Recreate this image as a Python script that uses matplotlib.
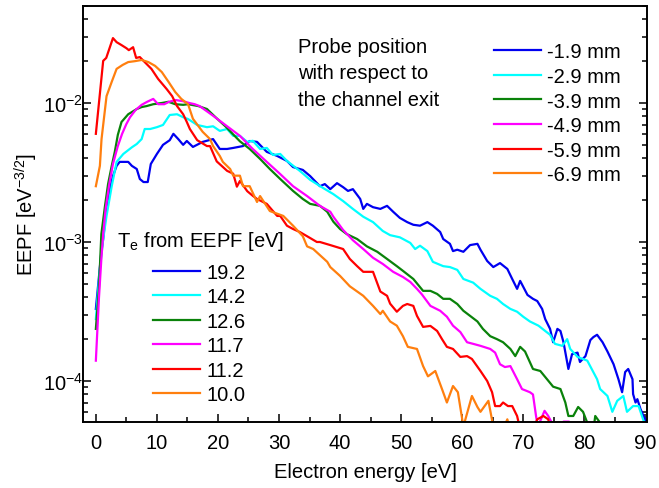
#!/usr/bin/env python
"""
EEPF at several probe positions relative to the channel exit.
"""

import matplotlib.pyplot as plt
from matplotlib.lines import Line2D
from matplotlib.ticker import FixedLocator, MultipleLocator, NullFormatter

plt.rcParams['font.family'] = ['Liberation Sans', 'DejaVu Sans']
plt.rcParams['mathtext.fontset'] = 'custom'
plt.rcParams['mathtext.rm'] = 'Liberation Sans'
plt.rcParams['mathtext.it'] = 'Liberation Sans:italic'

# -1.9 mm
e_19 = [0.0, 0.9, 1.2, 1.7, 2.3, 2.8, 3.4, 3.9, 5.3, 5.9, 6.7, 7.2, 7.8, 8.5, 9.0, 10.0,
        11.0, 12.1, 12.7, 13.5, 14.3, 14.9, 15.9, 17.5, 19.2, 20.3, 21.5, 22.5, 24.1, 25.2,
        26.4, 28.0, 29.7, 31.3, 32.3, 33.9, 35.1, 36.7, 37.5, 38.4, 39.5, 40.5, 41.3, 42.1,
        43.3, 43.8, 44.4, 45.4, 46.6, 47.7, 48.7, 49.8, 51.0, 52.0, 53.1, 54.3, 55.2, 56.4,
        56.9, 58.0, 58.5, 59.2, 60.2, 61.3, 62.5, 63.0, 64.1, 65.1, 66.2, 67.4, 68.2, 69.0,
        69.5, 70.7, 71.6, 72.3, 73.1, 73.6, 74.4, 74.9, 75.6, 76.1, 76.6, 77.4, 78.0, 78.9,
        79.3, 80.2, 81.0, 81.5, 82.1, 83.0, 83.8, 84.8, 85.6, 86.2, 86.7, 87.2, 87.9, 88.0,
        88.4, 88.7, 89.2, 89.7, 90.3]
eepf_19 = [3.3e-4, 8.5e-4, 1.05e-3, 1.73e-3, 2.4e-3, 2.98e-3, 3.53e-3, 3.77e-3, 3.77e-3,
           3.53e-3, 3.35e-3, 2.84e-3, 2.7e-3, 2.7e-3, 3.64e-3, 4.3e-3, 5.0e-3, 5.4e-3, 6.0e-3,
           5.5e-3, 5.0e-3, 5.33e-3, 4.83e-3, 5.25e-3, 5.5e-3, 4.67e-3, 4.67e-3, 4.75e-3, 4.9e-3,
           5.33e-3, 5.25e-3, 4.45e-3, 4.16e-3, 3.83e-3, 3.46e-3, 3.3e-3, 2.98e-3, 2.52e-3,
           2.61e-3, 2.4e-3, 2.65e-3, 2.48e-3, 2.33e-3, 2.4e-3, 2.04e-3, 1.73e-3, 1.88e-3,
           1.78e-3, 1.73e-3, 1.82e-3, 1.65e-3, 1.49e-3, 1.39e-3, 1.33e-3, 1.31e-3, 1.39e-3,
           1.31e-3, 1.18e-3, 1.05e-3, 9.7e-4, 8.6e-4, 8.8e-4, 8.5e-4, 9.5e-4, 9.7e-4, 8.8e-4,
           7.3e-4, 6.6e-4, 7.05e-4, 6.4e-4, 5.42e-4, 4.6e-4, 5.25e-4, 4.16e-4, 3.9e-4, 3.76e-4,
           3.3e-4, 2.79e-4, 2.37e-4, 1.9e-4, 2.37e-4, 2.29e-4, 1.9e-4, 1.22e-4, 1.56e-4, 1.6e-4,
           1.37e-4, 1.51e-4, 1.97e-4, 2.07e-4, 2.15e-4, 1.9e-4, 1.63e-4, 1.32e-4, 1.03e-4,
           8.3e-5, 1.16e-4, 1.22e-4, 1.03e-4, 8.05e-5, 7.0e-5, 7.4e-5, 6.3e-5, 5.6e-5, 5.0e-5]

# -2.9 mm
e_29 = [0.0, 0.66, 1.2, 1.75, 2.6, 3.4, 4.5, 5.9, 6.7, 7.5, 8.0, 8.9, 10.0, 11.0, 12.1,
        13.3, 14.3, 15.1, 16.6, 18.2, 19.2, 20.3, 21.5, 22.5, 23.6, 24.8, 25.7, 26.9, 28.0,
        29.0, 30.2, 31.3, 33.4, 35.1, 37.2, 38.9, 40.5, 42.1, 43.8, 45.4, 47.0, 48.2, 49.8,
        51.5, 52.3, 53.1, 54.3, 55.2, 56.9, 58.0, 59.2, 60.2, 61.8, 63.0, 64.6, 65.7, 66.7,
        67.9, 69.0, 70.0, 71.1, 72.5, 73.6, 74.4, 75.2, 76.4, 77.2, 77.7, 78.9, 80.5, 82.1,
        82.6, 83.8, 84.6, 85.4, 86.4, 87.0, 88.0, 88.9, 89.7, 90.3]
eepf_29 = [2.79e-4, 6.4e-4, 1.05e-3, 1.54e-3, 2.52e-3, 3.77e-3, 4.3e-3, 4.8e-3, 5.07e-3,
           5.5e-3, 6.5e-3, 6.5e-3, 6.7e-3, 6.95e-3, 8.2e-3, 8.3e-3, 7.9e-3, 7.67e-3, 6.95e-3,
           6.7e-3, 6.8e-3, 6.3e-3, 6.5e-3, 5.8e-3, 5.8e-3, 5.25e-3, 5.35e-3, 4.67e-3, 4.75e-3,
           4.23e-3, 4.3e-3, 3.83e-3, 3.25e-3, 2.8e-3, 2.45e-3, 2.21e-3, 1.97e-3, 1.73e-3,
           1.52e-3, 1.39e-3, 1.2e-3, 1.12e-3, 1.08e-3, 9.85e-4, 8.9e-4, 9.4e-4, 8.6e-4, 7.2e-4,
           6.7e-4, 6.6e-4, 6.3e-4, 5.42e-4, 5.1e-4, 4.6e-4, 4.1e-4, 3.9e-4, 3.58e-4, 3.3e-4,
           3.15e-4, 2.9e-4, 2.68e-4, 2.5e-4, 2.29e-4, 2.15e-4, 1.85e-4, 1.79e-4, 2.0e-4,
           1.7e-4, 1.49e-4, 1.4e-4, 1.03e-4, 8.75e-5, 7.8e-5, 6.0e-5, 7.2e-5, 7.8e-5, 6.0e-5,
           6.6e-5, 6.6e-5, 5.2e-5, 4.7e-5]

# -3.9 mm
e_39 = [0.0, 0.5, 0.9, 1.5, 2.0, 2.6, 3.1, 3.6, 4.2, 5.3, 6.7, 7.5, 8.3, 9.4, 10.8, 11.9,
        13.0, 14.3, 15.1, 16.8, 18.2, 19.6, 21.2, 23.6, 25.2, 26.9, 28.5, 30.2, 32.3, 33.9,
        35.1, 36.7, 37.9, 38.9, 40.0, 41.1, 42.8, 44.4, 46.1, 47.7, 49.3, 50.3, 52.0, 53.6,
        54.8, 55.9, 56.9, 58.0, 59.2, 60.2, 61.3, 62.5, 63.4, 64.6, 65.7, 66.7, 67.9, 68.7,
        69.5, 70.3, 71.6, 72.8, 73.9, 74.9, 76.1, 76.9, 77.4, 78.2, 79.0, 79.8, 80.5, 81.3,
        81.8, 82.6, 83.3]
eepf_39 = [2.37e-4, 4.6e-4, 1.14e-3, 1.82e-3, 2.61e-3, 3.53e-3, 4.45e-3, 5.9e-3, 7.3e-3,
           8.3e-3, 9.05e-3, 9.35e-3, 9.5e-3, 9.8e-3, 1.0e-2, 1.02e-2, 9.8e-3, 9.7e-3, 9.8e-3,
           9.5e-3, 9.05e-3, 7.9e-3, 6.8e-3, 5.3e-3, 4.67e-3, 3.96e-3, 3.35e-3, 2.84e-3,
           2.33e-3, 2.04e-3, 1.88e-3, 1.82e-3, 1.65e-3, 1.4e-3, 1.24e-3, 1.14e-3, 1.05e-3,
           9.3e-4, 8.5e-4, 7.55e-4, 6.7e-4, 6.2e-4, 5.42e-4, 4.45e-4, 4.45e-4, 4.23e-4, 3.9e-4,
           3.9e-4, 3.58e-4, 3.2e-4, 2.94e-4, 2.68e-4, 2.37e-4, 2.1e-4, 2.0e-4, 1.9e-4, 1.7e-4,
           1.51e-4, 1.76e-4, 1.63e-4, 1.22e-4, 1.18e-4, 1.03e-4, 9.1e-5, 8.75e-5, 7.0e-5,
           5.6e-5, 5.6e-5, 6.5e-5, 6.0e-5, 5.0e-5, 3.8e-5, 5.6e-5, 5.0e-5, 3.8e-5]

# -4.9 mm
e_49 = [0.0, 0.5, 0.9, 1.2, 1.6, 2.2, 2.8, 3.6, 4.3, 5.0, 5.6, 6.5, 7.5, 8.4, 9.4, 10.2,
        11.2, 12.0, 13.1, 14.3, 15.3, 16.2, 17.0, 19.2, 21.5, 23.6, 25.7, 28.0, 30.2, 32.3,
        34.6, 36.7, 38.4, 38.9, 40.5, 42.1, 43.8, 45.4, 47.0, 48.7, 50.3, 51.5, 52.6, 53.4,
        54.8, 56.4, 57.5, 58.5, 59.7, 60.8, 61.8, 63.0, 64.6, 65.4, 66.2, 67.0, 67.9, 68.4,
        69.0, 69.8, 71.1, 71.6, 72.1, 72.4, 73.5, 74.1, 74.8, 75.5, 76.6, 77.5, 78.2]
eepf_49 = [1.4e-4, 3.9e-4, 7.55e-4, 1.14e-3, 1.73e-3, 2.61e-3, 3.64e-3, 4.9e-3, 6.0e-3,
           7.06e-3, 7.9e-3, 8.9e-3, 9.7e-3, 1.02e-2, 1.07e-2, 9.8e-3, 9.8e-3, 1.02e-2,
           1.05e-2, 1.03e-2, 1.0e-2, 9.8e-3, 9.5e-3, 8.1e-3, 6.8e-3, 5.8e-3, 4.67e-3, 3.77e-3,
           3.08e-3, 2.52e-3, 2.14e-3, 1.82e-3, 1.65e-3, 1.52e-3, 1.22e-3, 1.03e-3, 8.9e-4,
           7.7e-4, 6.95e-4, 6.1e-4, 5.6e-4, 5.16e-4, 4.6e-4, 4.2e-4, 3.47e-4, 3.2e-4, 2.9e-4,
           2.5e-4, 2.25e-4, 1.9e-4, 1.85e-4, 1.79e-4, 1.7e-4, 1.6e-4, 1.32e-4, 1.26e-4,
           1.28e-4, 1.16e-4, 1.03e-4, 8.75e-5, 8.3e-5, 8.0e-5, 5.6e-5, 4.7e-5, 6.1e-5, 5.6e-5,
           4.9e-5, 3.8e-5, 5.1e-5, 5.1e-5, 3.8e-5]

# -5.9 mm
e_59 = [0.0, 1.2, 1.7, 2.8, 3.4, 4.2, 5.0, 5.4, 6.1, 6.6, 7.2, 8.0, 9.1, 10.2, 11.6, 12.5,
        13.3, 14.3, 14.9, 15.4, 16.6, 18.2, 18.7, 19.8, 21.5, 22.5, 23.1, 23.6, 24.8, 25.7,
        26.4, 28.0, 29.7, 30.2, 31.3, 32.3, 33.4, 34.6, 36.2, 36.7, 38.4, 40.5, 41.6, 42.8,
        43.8, 45.4, 46.6, 47.7, 48.2, 49.3, 50.3, 51.0, 52.0, 52.6, 53.6, 54.8, 55.9, 56.7,
        57.5, 58.5, 59.7, 60.8, 61.6, 63.0, 64.1, 64.9, 65.4, 66.2, 66.7, 67.5, 68.2, 69.0,
        69.5, 71.0, 72.3, 73.3, 74.1, 74.8, 77.0]
eepf_59 = [6.0e-3, 2.01e-2, 2.11e-2, 2.93e-2, 2.74e-2, 2.61e-2, 2.48e-2, 2.4e-2, 2.52e-2,
           2.11e-2, 2.14e-2, 1.97e-2, 1.76e-2, 1.49e-2, 1.26e-2, 1.12e-2, 9.5e-3, 8.3e-3,
           7.3e-3, 6.5e-3, 5.4e-3, 4.9e-3, 4.9e-3, 3.8e-3, 3.25e-3, 3.1e-3, 2.5e-3, 2.75e-3,
           2.32e-3, 2.15e-3, 2.04e-3, 1.88e-3, 1.54e-3, 1.54e-3, 1.31e-3, 1.24e-3, 1.18e-3,
           1.1e-3, 1.0e-3, 1.0e-3, 9.5e-4, 8.9e-4, 7.55e-4, 6.7e-4, 6.1e-4, 6.1e-4, 4.4e-4,
           4.1e-4, 3.6e-4, 3.15e-4, 3.47e-4, 3.58e-4, 3.47e-4, 2.94e-4, 2.45e-4, 2.49e-4,
           2.29e-4, 2.0e-4, 1.76e-4, 1.7e-4, 1.49e-4, 1.51e-4, 1.44e-4, 1.18e-4, 1.0e-4, 8.3e-5,
           6.6e-5, 6.6e-5, 7.0e-5, 6.6e-5, 6.6e-5, 5.6e-5, 4.5e-5, 3.8e-5, 5.3e-5, 5.6e-5,
           5.3e-5, 3.8e-5, 3.0e-5]

# -6.9 mm
e_69 = [0.0, 0.66, 0.93, 1.75, 2.6, 3.4, 4.4, 5.3, 6.4, 7.5, 8.6, 9.7, 10.8, 11.9, 13.0,
        14.0, 15.1, 15.9, 17.5, 18.7, 19.2, 20.3, 20.8, 22.0, 22.5, 23.6, 24.1, 25.2, 26.4,
        26.9, 28.5, 30.7, 32.3, 33.9, 34.6, 35.6, 37.9, 38.4, 40.0, 41.6, 43.8, 45.4, 46.6,
        47.0, 48.2, 49.3, 50.3, 51.1, 52.6, 53.6, 54.4, 55.6, 56.7, 57.5, 58.5, 59.3, 60.2,
        61.6, 62.5, 63.0, 64.3, 65.1, 66.0, 67.4, 68.2]
eepf_69 = [2.52e-3, 3.53e-3, 5.5e-3, 1.12e-2, 1.42e-2, 1.76e-2, 1.88e-2, 1.97e-2, 2.0e-2,
           2.04e-2, 1.97e-2, 1.85e-2, 1.67e-2, 1.42e-2, 1.2e-2, 1.07e-2, 9.8e-3, 7.7e-3,
           6.2e-3, 5.5e-3, 4.9e-3, 4.16e-3, 3.77e-3, 3.35e-3, 3.0e-3, 3.0e-3, 2.52e-3, 2.52e-3,
           1.94e-3, 2.14e-3, 1.67e-3, 1.54e-3, 1.31e-3, 1.1e-3, 9.3e-4, 8.9e-4, 7.2e-4, 6.6e-4,
           5.7e-4, 4.8e-4, 4.1e-4, 3.47e-4, 3.03e-4, 3.2e-4, 2.68e-4, 2.5e-4, 2.1e-4, 1.76e-4,
           1.7e-4, 1.28e-4, 1.08e-4, 1.18e-4, 8.75e-5, 7.0e-5, 9.2e-5, 8.3e-5, 4.7e-5, 7.8e-5,
           6.5e-5, 6.0e-5, 7.2e-5, 4.7e-5, 3.8e-5, 5.3e-5, 3.8e-5]

positions = ['-1.9 mm', '-2.9 mm', '-3.9 mm', '-4.9 mm', '-5.9 mm', '-6.9 mm']
te_values = ['19.2', '14.2', '12.6', '11.7', '11.2', '10.0']
colors = ['#0000f0', '#00ffff', '#0a820a', '#ff00ff', '#ff0000', '#ff7f0e']

energies = [e_19, e_29, e_39, e_49, e_59, e_69]
eepfs = [eepf_19, eepf_29, eepf_39, eepf_49, eepf_59, eepf_69]

FS = 14.5

fig = plt.figure(figsize=(6.59, 4.89), dpi=100)
ax = fig.add_axes([0.126, 0.135, 0.856, 0.851])

lines = []
for e, f, c, lab in zip(energies, eepfs, colors, positions):
    ln, = ax.plot(e, f, color=c, linewidth=1.6, label=lab)
    lines.append(ln)

ax.set_yscale('log')
ax.set_xlim(-2.1, 90.3)
ax.set_ylim(5.07e-5, 0.05)

ax.xaxis.set_major_locator(MultipleLocator(10))
ax.xaxis.set_minor_locator(MultipleLocator(5))
ax.yaxis.set_major_locator(FixedLocator([1e-4, 1e-3, 1e-2]))
ax.set_yticklabels(['10$^{-4}$', '10$^{-3}$', '10$^{-2}$'])
minor_y = [m * 10.0 ** k for k in (-5, -4, -3, -2) for m in range(2, 10)]
ax.yaxis.set_minor_locator(FixedLocator(minor_y))
ax.yaxis.set_minor_formatter(NullFormatter())

ax.tick_params(which='both', direction='in', top=False, right=True, width=1.1,
               labelsize=FS)
ax.tick_params(which='major', length=6)
ax.tick_params(which='minor', length=3.5)
ax.tick_params(axis='x', pad=8)
ax.tick_params(axis='y', pad=0)
for sp in ax.spines.values():
    sp.set_linewidth(1.4)

ax.set_xlabel('Electron energy [eV]', fontsize=FS, labelpad=7)
ax.set_ylabel('EEPF [eV$^{-3/2}$]', fontsize=FS, labelpad=2)

ax.text(0.381, 0.926, 'Probe position\nwith respect to\nthe channel exit',
        transform=ax.transAxes, fontsize=FS, va='top', ha='left', linespacing=1.5)

leg1 = ax.legend(handles=lines, labels=positions, loc='upper left',
                 bbox_to_anchor=(0.729, 0.912), frameon=False, fontsize=FS,
                 handlelength=2.34, handletextpad=0.3, labelspacing=0.275,
                 borderpad=0, borderaxespad=0)
ax.add_artist(leg1)

ax.text(0.06, 0.435, 'T$_\\mathrm{e}$ from EEPF [eV]', transform=ax.transAxes,
        fontsize=FS, va='center', ha='left')
proxies = [Line2D([], [], color=c, linewidth=1.6) for c in colors]
ax.legend(handles=proxies, labels=te_values, loc='upper left',
          bbox_to_anchor=(0.124, 0.383), frameon=False, fontsize=FS,
          handlelength=2.34, handletextpad=0.3, labelspacing=0.275,
          borderpad=0, borderaxespad=0)

plt.savefig('out.png', dpi=100)
